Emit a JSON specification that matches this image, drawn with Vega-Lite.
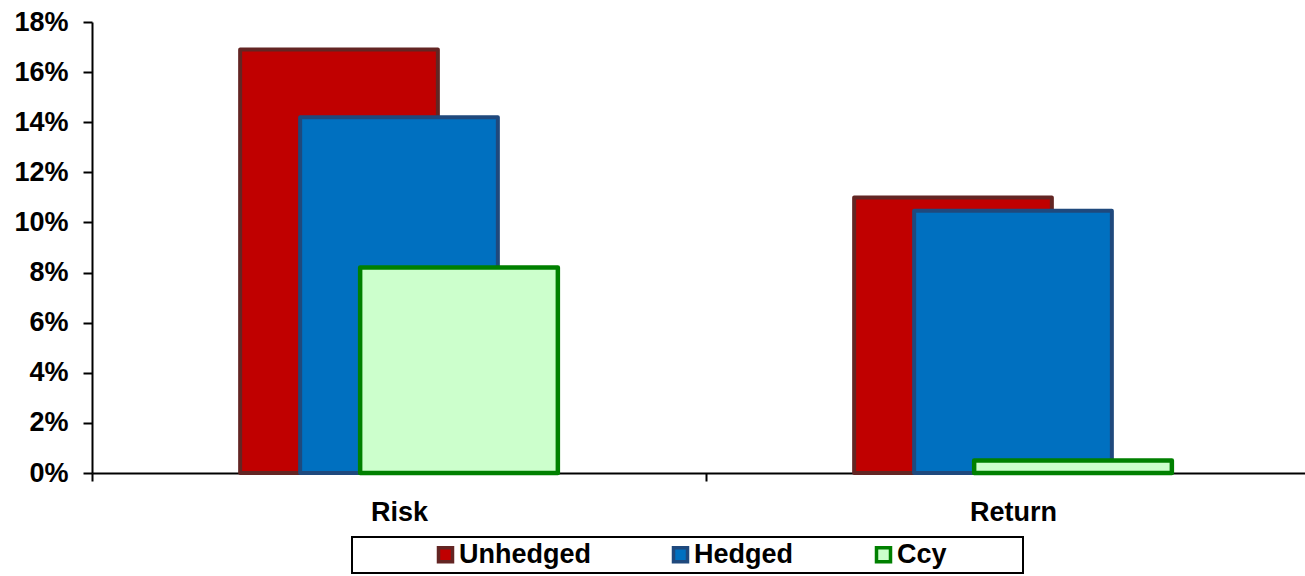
{
  "$schema": "https://vega.github.io/schema/vega-lite/v6.json",
  "width": 1213,
  "height": 451,
  "autosize": "none",
  "padding": {"left": 92, "top": 22, "right": 0, "bottom": 103},
  "background": "white",
  "data": {
    "values": [
      {"measure": "Risk", "series": "Unhedged", "value": 0.169},
      {"measure": "Risk", "series": "Hedged", "value": 0.142},
      {"measure": "Risk", "series": "Ccy", "value": 0.082},
      {"measure": "Return", "series": "Unhedged", "value": 0.110},
      {"measure": "Return", "series": "Hedged", "value": 0.1047},
      {"measure": "Return", "series": "Ccy", "value": 0.005}
    ]
  },
  "encoding": {
    "x": {
      "field": "measure", "type": "nominal", "sort": ["Risk", "Return"],
      "scale": {"paddingInner": 0, "paddingOuter": 0, "range": [0, 1228]},
      "axis": {"title": null, "labelAngle": 0, "tickBand": "extent", "tickSize": 8, "labelPadding": 18,
               "domainColor": "black", "domainWidth": 2, "tickColor": "black", "tickWidth": 2}
    },
    "y": {
      "field": "value", "type": "quantitative",
      "scale": {"domain": [0, 0.18], "nice": false},
      "axis": {"title": null, "format": ".0%", "values": [0, 0.02, 0.04, 0.06, 0.08, 0.1, 0.12, 0.14, 0.16, 0.18], "grid": false, "tickSize": 9, "labelPadding": 15,
               "domainColor": "black", "domainWidth": 2, "tickColor": "black", "tickWidth": 2}
    },
    "fill": {
      "field": "series", "type": "nominal",
      "scale": {"domain": ["Unhedged", "Hedged", "Ccy"], "range": ["#C00000", "#0070C0", "#CCFFCC"]},
      "legend": {"title": " ", "symbolStrokeWidth": 3.5}
    },
    "stroke": {
      "field": "series", "type": "nominal",
      "scale": {"domain": ["Unhedged", "Hedged", "Ccy"], "range": ["#632523", "#1F497D", "#008000"]},
      "legend": {"title": " ", "symbolStrokeWidth": 3.5}
    }
  },
  "layer": [
    {
      "transform": [{"filter": "datum.series === 'Unhedged'"}],
      "mark": {"type": "bar", "width": {"band": 0.322}, "xOffset": -60, "strokeWidth": 4, "strokeJoin": "round"}
    },
    {
      "transform": [{"filter": "datum.series === 'Hedged'"}],
      "mark": {"type": "bar", "width": {"band": 0.322}, "xOffset": 0, "strokeWidth": 4, "strokeJoin": "round"}
    },
    {
      "transform": [{"filter": "datum.series === 'Ccy'"}],
      "mark": {"type": "bar", "width": {"band": 0.322}, "xOffset": 60, "strokeWidth": 4.5, "strokeJoin": "round"}
    }
  ],
  "config": {
    "view": {"stroke": null},
    "font": "Liberation Sans",
    "axis": {
      "labelFont": "Liberation Sans", "labelFontSize": 27, "labelFontWeight": "bold", "labelColor": "black"
    },
    "legend": {
      "orient": "none", "legendX": 260, "legendY": 515,
      "direction": "horizontal", "columns": 3, "gridAlign": "each",
      "labelFont": "Liberation Sans", "labelFontSize": 27, "labelFontWeight": "bold", "labelColor": "black",
      "symbolType": "square", "symbolSize": 196, "symbolStrokeWidth": 3.5, "labelOffset": 0,
      "symbolOffset": 76, "columnPadding": -4, "padding": 4,
      "titleOrient": "right", "titlePadding": 72, "titleFontSize": 1,
      "strokeColor": "black", "strokeWidth": 2
    }
  }
}
